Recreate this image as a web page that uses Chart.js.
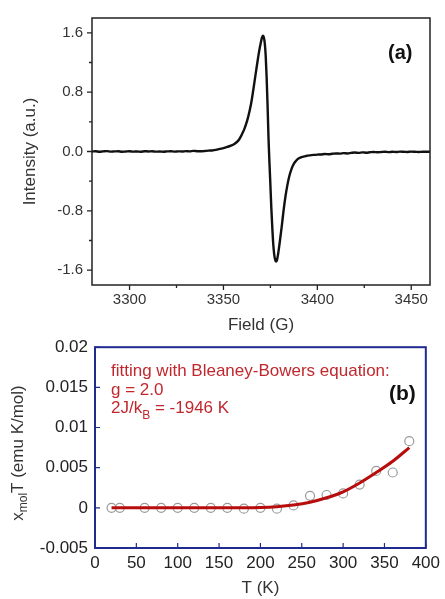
<!DOCTYPE html>
<html>
<head>
<meta charset="utf-8">
<script src="https://cdn.jsdelivr.net/npm/chart.js@4.4.1/dist/chart.umd.min.js"></script>
<style>
  body { margin: 0; background: #fff; }
  #wrap { position: relative; width: 445px; height: 599px; }
  canvas { position: absolute; left: 0; }
  #epr { top: 0; }
  #chi { top: 330px; }
</style>
</head>
<body>
<div id="wrap">
  <canvas id="epr" width="445" height="340"></canvas>
  <canvas id="chi" width="445" height="269"></canvas>
</div>
<script>
// ---- panel (a): EPR spectrum ----
const fieldG = [
  3280, 3282, 3284, 3286, 3288, 3290, 3292, 3294, 3296, 3298,
  3300, 3302, 3304, 3306, 3308, 3310, 3312, 3314, 3316, 3318,
  3320, 3322, 3324, 3326, 3328, 3330, 3332, 3334, 3336, 3338,
  3340, 3342, 3344, 3346, 3348, 3350, 3352, 3354, 3356, 3358,
  3359, 3360, 3361, 3362, 3363, 3364, 3365, 3366, 3367, 3368,
  3369, 3370, 3370.5, 3371, 3371.5, 3372, 3372.5, 3373, 3373.5, 3374,
  3374.5, 3375, 3375.5, 3376, 3376.5, 3377, 3377.5, 3378, 3378.5, 3379,
  3380, 3381, 3382, 3383, 3384, 3385, 3386, 3387, 3388, 3389,
  3390, 3392, 3394, 3396, 3398, 3400, 3402, 3404, 3406, 3408,
  3410, 3412, 3414, 3416, 3418, 3420, 3422, 3424, 3426, 3428,
  3430, 3432, 3434, 3436, 3438, 3440, 3442, 3444, 3446, 3448,
  3450, 3452, 3454, 3456, 3458, 3460
];
const intensity = [
  0.000, 0.004, -0.003, 0.002, 0.005, -0.002, 0.001, 0.004, -0.003, 0.000,
  0.003, -0.002, 0.001, -0.003, 0.004, 0.001, 0.003, -0.002, 0.000, -0.003,
  0.001, 0.004, -0.002, 0.002, 0.000, 0.005, 0.002, 0.008, 0.004, 0.003,
  0.007, 0.012, 0.014, 0.022, 0.035, 0.045, 0.062, 0.078, 0.105, 0.150,
  0.190, 0.240, 0.295, 0.365, 0.450, 0.555, 0.685, 0.850, 1.020, 1.190,
  1.350, 1.480, 1.535, 1.560, 1.540, 1.460, 1.290, 1.000, 0.620, 0.180,
  -0.150, -0.450, -0.760, -1.020, -1.240, -1.380, -1.455, -1.485, -1.465, -1.400,
  -1.220, -1.020, -0.800, -0.610, -0.460, -0.340, -0.255, -0.190, -0.145, -0.115,
  -0.095, -0.072, -0.060, -0.052, -0.046, -0.042, -0.040, -0.034, -0.038, -0.031,
  -0.026, -0.029, -0.022, -0.026, -0.019, -0.014, -0.018, -0.012, -0.016, -0.010,
  -0.006, -0.010, -0.007, -0.003, -0.008, -0.004, -0.007, -0.002, -0.004, -0.006,
  -0.002, -0.004, -0.006, -0.003, -0.004, -0.003
];
const fieldTicks = [3300, 3350, 3400, 3450];
const fieldMinor = [3325, 3375, 3425];
const intensityTicks = [-1.6, -0.8, 0, 0.8, 1.6];
const intensityLabels = ['-1.6', '-0.8', '0.0', '0.8', '1.6'];
const intensityMinor = [-1.2, -0.4, 0.4, 1.2];

// ---- panel (b): chi_mol T vs T ----
const tempK = [20, 30, 60, 80, 100, 120, 140, 160, 180, 200, 220, 240, 260, 280, 300, 320, 340, 360, 380];
const chiT = [0, 0, 0, 0, 0, 0, 0, 0, -0.0001, 0, -0.0001, 0.0003, 0.0015, 0.0016, 0.0018, 0.0029, 0.0046, 0.0044, 0.0083];
const fitT = [20, 50, 100, 150, 200, 220, 240, 260, 280, 300, 320, 340, 360, 380];
const fitChiT = [0, 0, 0, 0, 0.00005, 0.00015, 0.00035, 0.0007, 0.00125, 0.002, 0.0031, 0.0044, 0.0058, 0.0075];
const tempTicks = [0, 50, 100, 150, 200, 250, 300, 350, 400];
const chiTicks = [-0.005, 0, 0.005, 0.01, 0.015, 0.02];
const chiLabels = ['-0.005', '0', '0.005', '0.01', '0.015', '0.02'];

const FONT = 'Liberation Sans, Arial, sans-serif';

// box around the plot area plus tick marks
const framePlugin = {
  id: 'frame',
  afterDatasetsDraw(chart, args, o) {
    const ctx = chart.ctx;
    const a = chart.chartArea;
    const x = chart.scales.x, y = chart.scales.y;
    const dir = o.inside ? -1 : 1;
    ctx.save();
    ctx.strokeStyle = o.color;
    ctx.lineWidth = o.width;
    ctx.strokeRect(a.left, a.top, a.right - a.left, a.bottom - a.top);
    ctx.lineWidth = o.tickWidth;
    ctx.beginPath();
    const xt = (v, len) => { const p = x.getPixelForValue(v); ctx.moveTo(p, a.bottom); ctx.lineTo(p, a.bottom + dir * len); };
    const yt = (v, len) => { const p = y.getPixelForValue(v); ctx.moveTo(a.left, p); ctx.lineTo(a.left - dir * len, p); };
    o.xMajor.forEach(v => xt(v, o.major));
    (o.xMinor || []).forEach(v => xt(v, o.minor));
    o.yMajor.forEach(v => yt(v, o.major));
    (o.yMinor || []).forEach(v => yt(v, o.minor));
    ctx.stroke();
    ctx.restore();
  }
};

// free text drawn on the canvas (panel letters, notes, subscripted titles)
const textPlugin = {
  id: 'notes',
  afterDraw(chart, args, o) {
    const ctx = chart.ctx;
    ctx.save();
    (o.items || []).forEach(it => {
      ctx.fillStyle = it.color;
      ctx.textBaseline = 'alphabetic';
      ctx.textAlign = 'left';
      let cx = it.x;
      it.parts.forEach(p => {
        ctx.font = (p.bold ? 'bold ' : '') + p.size + 'px ' + FONT;
        ctx.fillText(p.t, cx, it.y + (p.dy || 0));
        cx += ctx.measureText(p.t).width;
      });
    });
    if (o.yTitle) {
      const t = o.yTitle;
      ctx.translate(t.x, t.y);
      ctx.rotate(-Math.PI / 2);
      ctx.fillStyle = t.color;
      ctx.textBaseline = 'middle';
      ctx.textAlign = 'left';
      let total = 0;
      t.parts.forEach(p => { ctx.font = p.size + 'px ' + FONT; total += ctx.measureText(p.t).width; });
      let cx = -total / 2;
      t.parts.forEach(p => {
        ctx.font = p.size + 'px ' + FONT;
        ctx.fillText(p.t, cx, p.dy || 0);
        cx += ctx.measureText(p.t).width;
      });
    }
    ctx.restore();
  }
};

new Chart(document.getElementById('epr'), {
  type: 'scatter',
  data: {
    datasets: [{
      data: fieldG.map((f, i) => ({ x: f, y: intensity[i] })),
      showLine: true,
      borderColor: '#111',
      borderWidth: 2.4,
      pointRadius: 0,
      cubicInterpolationMode: 'monotone'
    }]
  },
  options: {
    responsive: false,
    animation: false,
    layout: { padding: { top: 15, right: 15, left: 0, bottom: 0 } },
    plugins: {
      legend: { display: false },
      tooltip: { enabled: false },
      frame: {
        color: '#222', width: 1.5, tickWidth: 1.3, inside: false, major: 5, minor: 3,
        xMajor: fieldTicks, xMinor: fieldMinor, yMajor: intensityTicks, yMinor: intensityMinor
      },
      notes: {
        items: [{ x: 388, y: 59, color: '#111', parts: [{ t: '(a)', size: 20, bold: true }] }]
      }
    },
    scales: {
      x: {
        type: 'linear', min: 3280, max: 3460,
        grid: { display: false, drawTicks: false }, border: { display: false },
        afterBuildTicks: s => { s.ticks = fieldTicks.map(v => ({ value: v })); },
        afterFit: s => { s.height = 55; },
        ticks: { padding: 6, color: '#333', font: { family: FONT, size: 15 }, callback: v => String(v) },
        title: { display: true, text: 'Field (G)', color: '#333', font: { family: FONT, size: 17 }, padding: { top: 0, bottom: 4 } }
      },
      y: {
        type: 'linear', min: -1.8, max: 1.8,
        grid: { display: false, drawTicks: false }, border: { display: false },
        afterBuildTicks: s => { s.ticks = intensityTicks.map(v => ({ value: v })); },
        afterFit: s => { s.width = 92; },
        ticks: { padding: 9, color: '#333', font: { family: FONT, size: 15 },
                 callback: v => intensityLabels[intensityTicks.indexOf(v)] },
        title: { display: true, text: 'Intensity (a.u.)', color: '#333', font: { family: FONT, size: 17 }, padding: { top: 20, bottom: 0 } }
      }
    }
  },
  plugins: [framePlugin, textPlugin]
});

const red = '#c0282e';
new Chart(document.getElementById('chi'), {
  type: 'scatter',
  data: {
    datasets: [{
      data: fitT.map((t, i) => ({ x: t, y: fitChiT[i] })),
      showLine: true,
      borderColor: '#b80d0d',
      borderWidth: 3,
      pointRadius: 0,
      cubicInterpolationMode: 'monotone'
    }, {
      data: tempK.map((t, i) => ({ x: t, y: chiT[i] })),
      showLine: false,
      pointStyle: 'circle',
      pointRadius: 4.5,
      pointBorderWidth: 1.2,
      pointBorderColor: '#9a9a9a',
      pointBackgroundColor: 'rgba(0,0,0,0)'
    }]
  },
  options: {
    responsive: false,
    animation: false,
    layout: { padding: { top: 15, right: 13, left: 0, bottom: 0 } },
    plugins: {
      legend: { display: false },
      tooltip: { enabled: false },
      frame: {
        color: '#1f2b8e', width: 2, tickWidth: 1.2, inside: true, major: 5,
        xMajor: tempTicks, yMajor: chiTicks
      },
      notes: {
        items: [
          { x: 111, y: 46, color: red, parts: [{ t: 'fitting with Bleaney-Bowers equation:', size: 17 }] },
          { x: 111, y: 65, color: red, parts: [{ t: 'g = 2.0', size: 17 }] },
          { x: 111, y: 83, color: red, parts: [{ t: '2J/k', size: 17 }, { t: 'B', size: 12, dy: 6 }, { t: ' = -1946 K', size: 17 }] },
          { x: 389, y: 70, color: '#111', parts: [{ t: '(b)', size: 21, bold: true }] }
        ],
        yTitle: {
          x: 18, y: 123, color: '#333',
          parts: [{ t: 'x', size: 17 }, { t: 'mol', size: 12, dy: 6 }, { t: 'T (emu K/mol)', size: 17 }]
        }
      }
    },
    scales: {
      x: {
        type: 'linear', min: 0, max: 400,
        grid: { display: false, drawTicks: false }, border: { display: false },
        afterBuildTicks: s => { s.ticks = tempTicks.map(v => ({ value: v })); },
        afterFit: s => { s.height = 51; },
        ticks: { padding: 5, color: '#222', font: { family: FONT, size: 17 }, callback: v => String(v) },
        title: { display: true, text: 'T (K)', color: '#333', font: { family: FONT, size: 17 }, padding: { top: 0, bottom: 0 } }
      },
      y: {
        type: 'linear', min: -0.005, max: 0.02,
        grid: { display: false, drawTicks: false }, border: { display: false },
        afterBuildTicks: s => { s.ticks = chiTicks.map(v => ({ value: v })); },
        afterFit: s => { s.width = 95; },
        ticks: { padding: 7, color: '#222', font: { family: FONT, size: 17 },
                 callback: v => chiLabels[chiTicks.indexOf(v)] },
        title: { display: false }
      }
    }
  },
  plugins: [framePlugin, textPlugin]
});
</script>
</body>
</html>
